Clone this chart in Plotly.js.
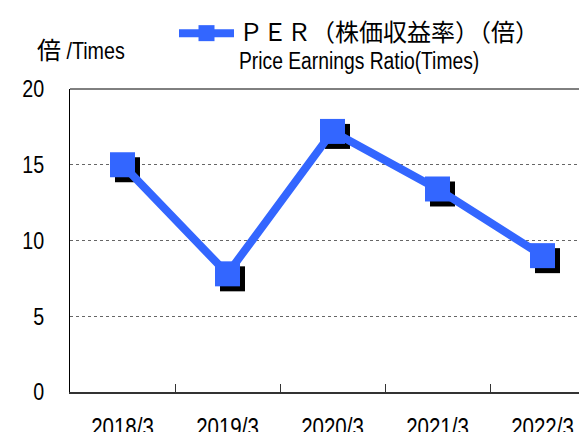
<!DOCTYPE html>
<html>
<head>
<meta charset="utf-8">
<script src="https://cdn.plot.ly/plotly-3.0.1.min.js"></script>
<style>
html,body{margin:0;padding:0;overflow:hidden;background:#fff;}
#chart{width:600px;height:445px;}
</style>
</head>
<body>
<div id="chart"></div>
<script>
const categories = ["2018/3", "2019/3", "2020/3", "2021/3", "2022/3"];
const perValues = [15.0, 7.8, 17.2, 13.4, 9.0];
const seriesName = "<span style=\"font-size:24px\">ＰＥＲ（株価収益率）（倍）</span><br><span style=\"font-size:23.5px\">Price Earnings Ratio(Times)</span>";
const yTitle = "倍<span> /Times</span>";

const FONT = "'Liberation Sans', Arial, 'Noto Sans CJK JP', sans-serif";
const blue = "#3366FF";

// plot area geometry (px) used to offset the shadow layer
const plotW = 525, plotH = 303;
const dx = 5 / (plotW / 5);     // 5px right in category units
const dy = 5 * 20 / plotH;      // 5px down in value units

// invisible carrier so the base (labelled) axes know their categories
const base = {
  x: categories, y: perValues, xaxis: 'x', yaxis: 'y',
  type: 'scatter', mode: 'markers', showlegend: false, hoverinfo: 'skip',
  marker: {size: 1, opacity: 0}
};
const shadow = {
  x: categories, y: perValues, xaxis: 'x2', yaxis: 'y2',
  type: 'scatter', mode: 'markers', showlegend: false, hoverinfo: 'skip',
  marker: {symbol: 'square', size: 25, color: '#000000', line: {width: 0}}
};
const main = {
  x: categories, y: perValues, xaxis: 'x3', yaxis: 'y3',
  type: 'scatter', mode: 'lines+markers', name: seriesName,
  line: {color: blue, width: 8},
  marker: {symbol: 'square', size: 25, color: blue, line: {width: 0}}
};

const hidden = {visible: false, fixedrange: true};

const layout = {
  width: 600, height: 445,
  margin: {l: 70, r: 5, t: 89, b: 53, autoexpand: false},
  paper_bgcolor: '#fff', plot_bgcolor: '#fff',
  font: {family: FONT, size: 21, color: '#000'},
  showlegend: true,
  legend: {
    xref: 'container', yref: 'container', x: 174/600, y: 1 - 13/445,
    xanchor: 'left', yanchor: 'top', bgcolor: 'rgba(0,0,0,0)',
    font: {family: FONT, size: 21, color: '#000'}, valign: 'top',
    itemwidth: 55
  },
  xaxis: {
    type: 'category', range: [-0.5, 4.5], fixedrange: true,
    showline: true, linecolor: '#333', linewidth: 2,
    ticks: 'inside', tickson: 'boundaries', ticklen: 8, tickcolor: '#333', tickwidth: 1,
    showgrid: false, zeroline: false,
    tickfont: {family: FONT, size: 25, color: '#000'},
    ticklabelstandoff: 12
  },
  yaxis: {
    range: [0, 20], dtick: 5, tick0: 0, fixedrange: true,
    showline: true, linecolor: '#000', linewidth: 1,
    ticks: '', showgrid: true, gridcolor: '#666', griddash: 'dot', gridwidth: 1,
    zeroline: false,
    tickfont: {family: FONT, size: 24, color: '#000'},
    ticklabelstandoff: 20
  },
  xaxis2: Object.assign({type: 'category', overlaying: 'x', range: [-0.5 - dx, 4.5 - dx]}, hidden),
  yaxis2: Object.assign({overlaying: 'y', range: [dy, 20 + dy]}, hidden),
  xaxis3: Object.assign({type: 'category', overlaying: 'x', range: [-0.5, 4.5]}, hidden),
  yaxis3: Object.assign({overlaying: 'y', range: [0, 20]}, hidden),
  shapes: [
    {type: 'line', xref: 'paper', yref: 'paper', x0: 0, x1: 1, y0: 1, y1: 1,
     line: {color: '#000', width: 1}}
  ],
  annotations: [
    {text: yTitle, xref: 'paper', yref: 'paper', x: -0.08, y: 1.075,
     xanchor: 'left', yanchor: 'bottom', showarrow: false,
     font: {family: FONT, size: 24, color: '#000'}}
  ]
};

// condense Latin text to mimic the narrow typeface of the reference
const CJK = /[\u3000-\u9fff\uff00-\uffef]/;
function condense(el, f) {
  const len = el.getComputedTextLength();
  if (len > 0) {
    el.setAttribute('textLength', (len * f).toFixed(2));
    el.setAttribute('lengthAdjust', 'spacingAndGlyphs');
  }
}
function condenseAll(gd) {
  const texts = gd.querySelectorAll('text');
  texts.forEach(t => {
    const spans = t.querySelectorAll('tspan');
    if (spans.length) {
      spans.forEach(s => {
        if (s.querySelector('tspan')) return;
        if (!CJK.test(s.textContent)) condense(s, 0.82);
      });
    } else if (!CJK.test(t.textContent)) {
      condense(t, 0.82);
    }
  });
}

Plotly.newPlot('chart', [base, shadow, main], layout, {displayModeBar: false, staticPlot: true})
  .then(gd => condenseAll(gd));
</script>
</body>
</html>
